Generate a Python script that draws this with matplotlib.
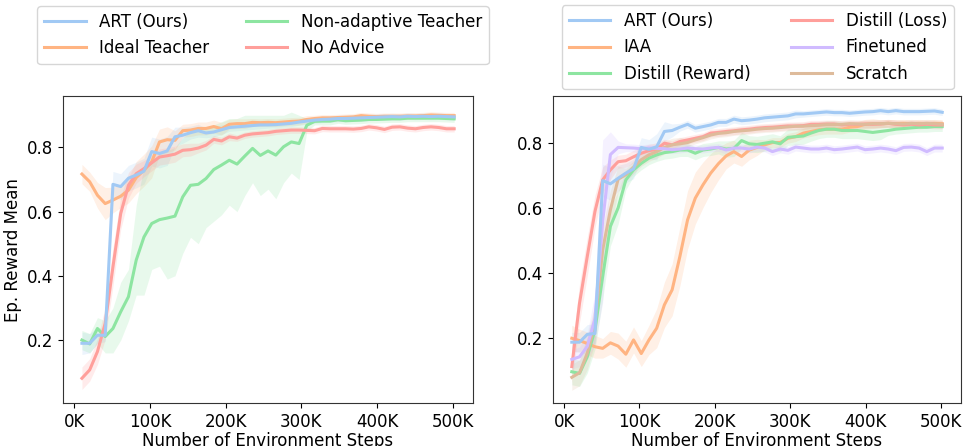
"""
ART vs baselines: episode reward mean over environment steps (two panels)
"""
import numpy as np
import matplotlib
matplotlib.use("Agg")
import matplotlib.pyplot as plt
import matplotlib.ticker as mticker

# x grid: 49 evaluation points, 10240 env steps apart
steps = np.arange(1, 50) * 10240

# ---- left panel --------------------------------------------------------------
left_art = [0.19, 0.19, 0.215, 0.215, 0.685, 0.678, 0.704, 0.714, 0.726, 0.787,
            0.781, 0.789, 0.833, 0.838, 0.846, 0.852, 0.845, 0.848, 0.855, 0.862,
            0.864, 0.866, 0.868, 0.870, 0.870, 0.871, 0.873, 0.875, 0.879, 0.882,
            0.885, 0.887, 0.888, 0.890, 0.890, 0.891, 0.892, 0.893, 0.894, 0.895,
            0.896, 0.895, 0.897, 0.896, 0.897, 0.896, 0.897, 0.896, 0.895]
left_art_sd = [0.035, 0.03, 0.025, 0.02, 0.04, 0.04, 0.04, 0.04, 0.04, 0.045,
               0.045, 0.045, 0.03, 0.025, 0.02, 0.02, 0.015, 0.015, 0.015, 0.012,
               0.012, 0.012, 0.012, 0.012, 0.01, 0.01, 0.01, 0.01, 0.01, 0.01,
               0.01, 0.01, 0.01, 0.01, 0.01, 0.01, 0.01, 0.01, 0.01, 0.01,
               0.01, 0.01, 0.01, 0.01, 0.01, 0.01, 0.01, 0.01, 0.01]

left_ideal = [0.717, 0.693, 0.651, 0.625, 0.636, 0.648, 0.667, 0.706, 0.729, 0.755,
              0.817, 0.824, 0.822, 0.852, 0.854, 0.859, 0.859, 0.865, 0.858, 0.872,
              0.874, 0.874, 0.878, 0.877, 0.878, 0.877, 0.879, 0.881, 0.882, 0.887,
              0.890, 0.892, 0.892, 0.893, 0.894, 0.895, 0.899, 0.897, 0.896, 0.897,
              0.897, 0.897, 0.898, 0.898, 0.899, 0.901, 0.900, 0.899, 0.899]
left_ideal_sd = [0.03, 0.03, 0.04, 0.05, 0.04, 0.035, 0.04, 0.05, 0.05, 0.05,
                 0.04, 0.04, 0.03, 0.02, 0.02, 0.02, 0.02, 0.02, 0.02, 0.015,
                 0.015, 0.015, 0.012, 0.012, 0.012, 0.012, 0.012, 0.012, 0.012, 0.012,
                 0.01, 0.01, 0.01, 0.01, 0.01, 0.01, 0.01, 0.01, 0.01, 0.01,
                 0.01, 0.01, 0.01, 0.01, 0.01, 0.01, 0.01, 0.01, 0.01]

left_nonadapt = [0.200, 0.188, 0.236, 0.211, 0.236, 0.288, 0.335, 0.449, 0.521, 0.563,
                 0.575, 0.580, 0.586, 0.646, 0.682, 0.685, 0.703, 0.731, 0.745, 0.760,
                 0.748, 0.773, 0.797, 0.775, 0.789, 0.776, 0.802, 0.817, 0.812, 0.869,
                 0.881, 0.882, 0.882, 0.886, 0.883, 0.884, 0.885, 0.887, 0.887, 0.888,
                 0.889, 0.889, 0.891, 0.891, 0.891, 0.891, 0.891, 0.890, 0.889]
left_nonadapt_lo = [0.17, 0.16, 0.19, 0.16, 0.16, 0.20, 0.26, 0.34, 0.34, 0.42,
                    0.43, 0.39, 0.40, 0.47, 0.52, 0.50, 0.55, 0.57, 0.59, 0.62,
                    0.60, 0.65, 0.69, 0.65, 0.67, 0.64, 0.69, 0.72, 0.70, 0.85,
                    0.87, 0.87, 0.87, 0.875, 0.872, 0.873, 0.874, 0.876, 0.876, 0.877,
                    0.878, 0.878, 0.880, 0.880, 0.880, 0.880, 0.880, 0.879, 0.878]
left_nonadapt_hi = [0.23, 0.22, 0.27, 0.26, 0.30, 0.38, 0.42, 0.62, 0.74, 0.76,
                    0.78, 0.79, 0.80, 0.83, 0.85, 0.86, 0.86, 0.87, 0.88, 0.89,
                    0.89, 0.90, 0.90, 0.90, 0.90, 0.90, 0.90, 0.91, 0.90, 0.89,
                    0.893, 0.894, 0.894, 0.897, 0.894, 0.895, 0.896, 0.898, 0.898, 0.899,
                    0.900, 0.900, 0.902, 0.902, 0.902, 0.902, 0.902, 0.901, 0.900]

left_noadv = [0.081, 0.107, 0.164, 0.252, 0.428, 0.594, 0.682, 0.718, 0.734, 0.752,
              0.770, 0.774, 0.779, 0.791, 0.793, 0.798, 0.807, 0.825, 0.820, 0.833,
              0.829, 0.838, 0.842, 0.844, 0.846, 0.850, 0.852, 0.854, 0.854, 0.853,
              0.852, 0.859, 0.858, 0.858, 0.858, 0.857, 0.859, 0.864, 0.861, 0.856,
              0.863, 0.864, 0.860, 0.858, 0.862, 0.864, 0.862, 0.858, 0.858]
left_noadv_sd = [0.035, 0.035, 0.04, 0.05, 0.06, 0.05, 0.04, 0.03, 0.025, 0.025,
                 0.025, 0.025, 0.025, 0.02, 0.02, 0.015, 0.015, 0.012, 0.012, 0.012,
                 0.01, 0.01, 0.01, 0.01, 0.01, 0.01, 0.01, 0.01, 0.01, 0.01,
                 0.01, 0.01, 0.01, 0.01, 0.01, 0.01, 0.01, 0.01, 0.01, 0.01,
                 0.01, 0.01, 0.01, 0.01, 0.01, 0.01, 0.01, 0.01, 0.01]

# ---- right panel -------------------------------------------------------------
right_art = [0.188, 0.188, 0.212, 0.215, 0.685, 0.675, 0.692, 0.708, 0.721, 0.787,
             0.781, 0.789, 0.836, 0.839, 0.849, 0.858, 0.846, 0.851, 0.856, 0.864,
             0.864, 0.874, 0.869, 0.871, 0.874, 0.878, 0.880, 0.882, 0.884, 0.890,
             0.890, 0.892, 0.894, 0.896, 0.894, 0.894, 0.892, 0.894, 0.896, 0.897,
             0.900, 0.897, 0.900, 0.897, 0.897, 0.897, 0.898, 0.899, 0.895]
right_art_sd = [0.03, 0.03, 0.03, 0.03, 0.05, 0.05, 0.04, 0.03, 0.03, 0.03,
                0.03, 0.04, 0.03, 0.02, 0.012, 0.012, 0.012, 0.012, 0.012, 0.012,
                0.012, 0.012, 0.012, 0.012, 0.012, 0.012, 0.012, 0.012, 0.012, 0.012,
                0.01, 0.01, 0.01, 0.01, 0.01, 0.01, 0.01, 0.01, 0.01, 0.01,
                0.01, 0.01, 0.01, 0.01, 0.01, 0.01, 0.01, 0.01, 0.01]

right_iaa = [0.200, 0.193, 0.184, 0.174, 0.169, 0.186, 0.176, 0.151, 0.195, 0.153,
             0.195, 0.231, 0.303, 0.349, 0.451, 0.564, 0.631, 0.672, 0.708, 0.737,
             0.761, 0.774, 0.759, 0.779, 0.787, 0.795, 0.802, 0.802, 0.815, 0.820,
             0.831, 0.836, 0.841, 0.843, 0.843, 0.843, 0.849, 0.851, 0.858, 0.860,
             0.860, 0.861, 0.860, 0.861, 0.860, 0.861, 0.860, 0.861, 0.860]
right_iaa_sd = [0.04, 0.035, 0.035, 0.035, 0.03, 0.035, 0.04, 0.04, 0.04, 0.04,
                0.045, 0.06, 0.07, 0.08, 0.09, 0.09, 0.08, 0.07, 0.06, 0.05,
                0.04, 0.035, 0.03, 0.03, 0.025, 0.015, 0.015, 0.015, 0.015, 0.015,
                0.015, 0.015, 0.015, 0.015, 0.015, 0.015, 0.015, 0.015, 0.015, 0.015,
                0.012, 0.012, 0.012, 0.012, 0.012, 0.012, 0.012, 0.012, 0.012]

right_dreward = [0.097, 0.092, 0.143, 0.226, 0.390, 0.544, 0.601, 0.687, 0.718, 0.738,
                 0.754, 0.764, 0.771, 0.774, 0.779, 0.779, 0.769, 0.779, 0.782, 0.787,
                 0.782, 0.784, 0.808, 0.798, 0.796, 0.800, 0.804, 0.798, 0.818, 0.820,
                 0.822, 0.831, 0.839, 0.843, 0.843, 0.839, 0.839, 0.839, 0.836, 0.833,
                 0.836, 0.839, 0.843, 0.845, 0.847, 0.849, 0.849, 0.851, 0.851]
right_dreward_sd = [0.04, 0.04, 0.05, 0.06, 0.07, 0.06, 0.05, 0.03, 0.02, 0.02,
                    0.02, 0.02, 0.02, 0.02, 0.02, 0.02, 0.02, 0.02, 0.02, 0.02,
                    0.025, 0.025, 0.025, 0.025, 0.025, 0.025, 0.025, 0.025, 0.025, 0.025,
                    0.025, 0.025, 0.025, 0.025, 0.025, 0.025, 0.025, 0.025, 0.025, 0.025,
                    0.025, 0.015, 0.015, 0.015, 0.015, 0.015, 0.015, 0.015, 0.015]

right_dloss = [0.113, 0.308, 0.451, 0.590, 0.687, 0.718, 0.743, 0.746, 0.758, 0.769,
               0.777, 0.781, 0.800, 0.795, 0.805, 0.810, 0.815, 0.820, 0.831, 0.833,
               0.836, 0.838, 0.841, 0.843, 0.846, 0.848, 0.849, 0.851, 0.853, 0.853,
               0.854, 0.858, 0.858, 0.859, 0.859, 0.856, 0.858, 0.858, 0.859, 0.858,
               0.859, 0.861, 0.858, 0.856, 0.858, 0.856, 0.858, 0.856, 0.856]
right_dloss_sd = [0.05, 0.06, 0.06, 0.05, 0.04, 0.03, 0.02, 0.02, 0.02, 0.02,
                  0.02, 0.02, 0.012, 0.012, 0.012, 0.012, 0.012, 0.012, 0.012, 0.012,
                  0.012, 0.012, 0.012, 0.012, 0.012, 0.012, 0.012, 0.012, 0.012, 0.012,
                  0.012, 0.012, 0.012, 0.012, 0.012, 0.012, 0.012, 0.012, 0.012, 0.012,
                  0.012, 0.012, 0.012, 0.012, 0.012, 0.012, 0.012, 0.012, 0.012]

right_finetuned = [0.135, 0.143, 0.175, 0.260, 0.560, 0.765, 0.787, 0.786, 0.785, 0.783,
                   0.785, 0.784, 0.783, 0.780, 0.782, 0.785, 0.783, 0.782, 0.785, 0.787,
                   0.779, 0.785, 0.785, 0.782, 0.788, 0.785, 0.774, 0.782, 0.778, 0.788,
                   0.785, 0.782, 0.782, 0.785, 0.780, 0.782, 0.785, 0.788, 0.780, 0.782,
                   0.785, 0.782, 0.777, 0.787, 0.788, 0.785, 0.774, 0.785, 0.785]
right_finetuned_sd = [0.03, 0.03, 0.04, 0.08, 0.25, 0.07, 0.02, 0.012, 0.012, 0.012,
                      0.012, 0.012, 0.012, 0.012, 0.012, 0.012, 0.012, 0.012, 0.012, 0.012,
                      0.012, 0.012, 0.012, 0.012, 0.012, 0.012, 0.012, 0.012, 0.012, 0.012,
                      0.012, 0.012, 0.012, 0.012, 0.012, 0.012, 0.012, 0.012, 0.012, 0.012,
                      0.012, 0.012, 0.012, 0.012, 0.012, 0.012, 0.012, 0.012, 0.012]

right_scratch = [0.080, 0.094, 0.154, 0.246, 0.472, 0.595, 0.689, 0.703, 0.726, 0.749,
                 0.764, 0.774, 0.787, 0.795, 0.798, 0.802, 0.810, 0.817, 0.825, 0.830,
                 0.832, 0.836, 0.838, 0.840, 0.843, 0.845, 0.846, 0.848, 0.850, 0.852,
                 0.852, 0.854, 0.855, 0.857, 0.857, 0.858, 0.860, 0.859, 0.858, 0.860,
                 0.860, 0.861, 0.860, 0.859, 0.861, 0.860, 0.861, 0.860, 0.858]
right_scratch_sd = [0.04, 0.04, 0.05, 0.06, 0.07, 0.06, 0.04, 0.02, 0.02, 0.02,
                    0.02, 0.02, 0.02, 0.02, 0.02, 0.012, 0.012, 0.012, 0.012, 0.012,
                    0.012, 0.012, 0.012, 0.012, 0.012, 0.012, 0.012, 0.012, 0.012, 0.012,
                    0.012, 0.012, 0.012, 0.012, 0.012, 0.012, 0.012, 0.012, 0.012, 0.012,
                    0.012, 0.012, 0.012, 0.012, 0.012, 0.012, 0.012, 0.012, 0.012]

# seaborn "pastel" colours
BLUE, ORANGE, GREEN = "#a1c9f4", "#ffb482", "#8de5a1"
RED, PURPLE, BROWN = "#ff9f9b", "#d0bbff", "#debb9b"

LW = 2.2
FILL_ALPHA = 0.2

plt.rcParams["font.family"] = "DejaVu Sans"
plt.rcParams["font.size"] = 12

fig = plt.figure(figsize=(9.67, 4.46), dpi=100)
ax1 = fig.add_axes([0.0655, 0.0957, 0.4234, 0.6890])
ax2 = fig.add_axes([0.5722, 0.0957, 0.4213, 0.6890])


def draw(ax, mean, sd, color, label, z=2, lo=None, hi=None):
    mean = np.asarray(mean)
    if lo is None:
        lo = mean - np.asarray(sd)
        hi = mean + np.asarray(sd)
    ax.fill_between(steps, lo, hi, color=color, alpha=FILL_ALPHA, linewidth=0, zorder=1)
    ax.plot(steps, mean, color=color, linewidth=LW, label=label, zorder=z)


# left
draw(ax1, left_art, left_art_sd, BLUE, "ART (Ours)", z=5)
draw(ax1, left_ideal, left_ideal_sd, ORANGE, "Ideal Teacher", z=3)
draw(ax1, left_nonadapt, None, GREEN, "Non-adaptive Teacher", z=2,
     lo=left_nonadapt_lo, hi=left_nonadapt_hi)
draw(ax1, left_noadv, left_noadv_sd, RED, "No Advice", z=4)

# right
draw(ax2, right_art, right_art_sd, BLUE, "ART (Ours)", z=8)
draw(ax2, right_iaa, right_iaa_sd, ORANGE, "IAA", z=3)
draw(ax2, right_dreward, right_dreward_sd, GREEN, "Distill (Reward)", z=4)
draw(ax2, right_dloss, right_dloss_sd, RED, "Distill (Loss)", z=5)
draw(ax2, right_finetuned, right_finetuned_sd, PURPLE, "Finetuned", z=7)
draw(ax2, right_scratch, right_scratch_sd, BROWN, "Scratch", z=6)

fmt = mticker.FuncFormatter(lambda v, _: f"{int(round(v / 1000))}K")
for ax in (ax1, ax2):
    ax.set_xlim(-14300, 526300)
    ax.set_xticks(range(0, 500001, 100000))
    ax.xaxis.set_major_formatter(fmt)
    ax.set_yticks([0.2, 0.4, 0.6, 0.8])
    ax.set_xlabel("Number of Environment Steps", fontsize=12, labelpad=1)
    ax.tick_params(labelsize=12)
    for s in ax.spines.values():
        s.set_color("#333333")

ax1.set_ylim(0.003, 0.96)
ax2.set_ylim(0.0, 0.945)
ax1.set_ylabel("Ep. Reward Mean", fontsize=12)

ax1.legend(loc="upper center", bbox_to_anchor=(0.272, 0.986), bbox_transform=fig.transFigure,
           ncol=2, fontsize=12, handlelength=2.5, columnspacing=2.2, borderaxespad=0)
ax2.legend(loc="upper center", bbox_to_anchor=(0.7837, 0.988), bbox_transform=fig.transFigure,
           ncol=2, fontsize=12, handlelength=2.5, columnspacing=2.4, borderaxespad=0)

plt.savefig("out.png", dpi=100)
plt.close()
